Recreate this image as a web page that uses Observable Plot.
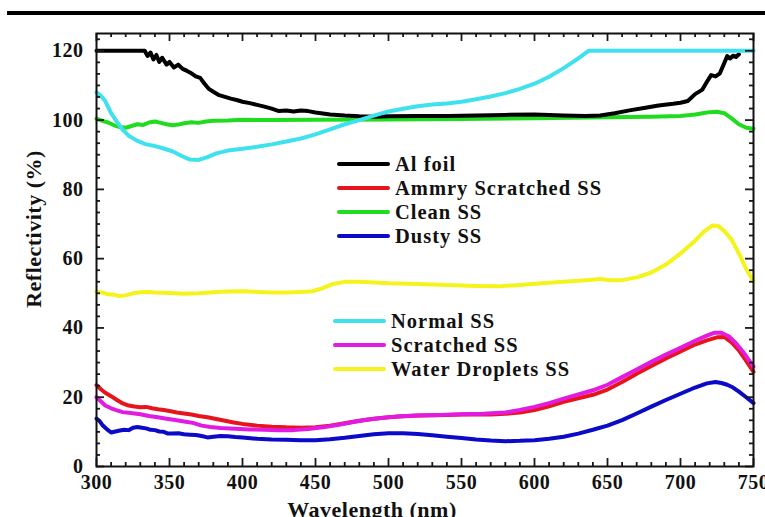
<!DOCTYPE html>
<html>
<head>
<meta charset="utf-8">
<script src="https://cdn.jsdelivr.net/npm/d3@7"></script>
<script src="https://cdn.jsdelivr.net/npm/@observablehq/plot@0.6"></script>
<style>
  html, body { margin: 0; padding: 0; background: white; }
  #wrap { position: relative; width: 765px; height: 517px; overflow: hidden; font-family: "Liberation Serif", "Times New Roman", serif; font-weight: bold; }
  #topline { position: absolute; left: 7px; top: 11px; width: 758px; height: 4px; background: #000; }
  .leg { position: absolute; display: flex; align-items: center; font-size: 20.5px; letter-spacing: 1px; color: #111; white-space: nowrap; }
  .leg .sw { width: 53px; height: 4px; margin-right: 5px; border-radius: 2px; }
</style>
</head>
<body>
<div id="wrap"></div>
<script>
// ---- tick labels ----
const xTicks = [300, 350, 400, 450, 500, 550, 600, 650, 700, 750];
const yTicks = [0, 20, 40, 60, 80, 100, 120];

// ---- series names and colours ----
const seriesNames = ["Al foil", "Ammry Scratched SS", "Clean SS", "Dusty SS", "Normal SS", "Scratched SS", "Water Droplets SS"];
const seriesColors = ["#000000", "#e8141c", "#1fdc1f", "#0a0ac8", "#3ee2ee", "#e21ae2", "#f4f41c"];

// ---- series values: [wavelength (nm), reflectivity (%)] ----
const alFoil = [[300,120],[333,120],[335,118.5],[337,119.5],[339,117.5],[341,118.8],[343,116.8],[345,118],[348,116],[350,116.8],[353,115.2],[356,116],[359,114.8],[362,114.2],[365,113.5],[368,112.6],[371,112.2],[374,110.5],[377,109],[380,108.2],[384,107.2],[388,106.7],[392,106.2],[396,105.8],[400,105.3],[405,104.9],[410,104.4],[415,103.9],[420,103.3],[425,102.6],[430,102.8],[435,102.5],[440,102.8],[445,102.6],[450,102.2],[455,101.9],[460,101.6],[470,101.3],[480,101.1],[490,101],[500,101.1],[520,101.2],[540,101.2],[560,101.3],[580,101.5],[600,101.6],[620,101.3],[635,101.2],[645,101.3],[655,102],[665,102.8],[675,103.5],[685,104.2],[695,104.7],[700,105],[705,105.5],[710,107.5],[715,108.8],[718,111],[721,113],[724,112.6],[727,113.5],[730,116.5],[732,118.5],[734,117.8],[736,118.6],[738,118.2],[740,119]];
const ammryScratched = [[300,23.5],[303,22.3],[306,21.3],[310,20.3],[314,19.2],[318,18.2],[322,17.6],[326,17.3],[330,17.1],[334,17.2],[338,16.8],[342,16.5],[346,16.3],[350,16],[355,15.6],[360,15.3],[365,15],[370,14.6],[376,14.2],[382,13.7],[388,13.2],[394,12.7],[400,12.3],[410,11.8],[420,11.5],[430,11.3],[440,11.2],[450,11.3],[460,11.8],[470,12.5],[480,13.2],[490,13.8],[500,14.2],[510,14.5],[520,14.7],[530,14.8],[540,14.9],[550,15],[560,15],[570,15],[580,15.2],[590,15.6],[600,16.3],[610,17.4],[620,18.7],[630,19.7],[640,20.7],[650,22.2],[660,24.4],[670,26.8],[680,29],[690,31.2],[700,33.2],[710,35.2],[718,36.4],[725,37.3],[730,37.4],[735,35.8],[740,33.5],[745,30.5],[750,27.3]];
const cleanSS = [[300,100.4],[304,99.8],[308,99.3],[312,98.5],[316,98],[320,97.8],[324,98.3],[328,98.8],[332,98.6],[336,99.3],[340,99.6],[344,99.2],[348,98.8],[352,98.5],[356,98.7],[360,99.1],[365,99.4],[370,99.2],[375,99.6],[380,99.8],[390,99.9],[400,100.1],[420,100],[450,100.1],[500,100.2],[550,100.3],[600,100.5],[650,100.8],[680,101],[700,101.2],[710,101.6],[715,102],[720,102.3],[725,102.4],[730,102],[735,100.5],[740,98.8],[745,97.8],[750,97.5]];
const dustySS = [[300,13.8],[302,13.2],[304,12],[307,10.8],[310,9.8],[313,10.1],[316,10.4],[319,10.6],[322,10.5],[325,11.2],[328,11.4],[331,11.2],[334,11],[337,10.6],[340,10.5],[343,10.1],[346,10],[349,9.5],[352,9.5],[356,9.6],[360,9.3],[364,9.2],[368,9.1],[372,8.8],[376,8.4],[380,8.6],[385,8.8],[390,8.7],[395,8.5],[400,8.4],[410,8],[420,7.8],[430,7.7],[440,7.6],[450,7.6],[460,7.9],[470,8.3],[480,8.8],[490,9.3],[500,9.6],[510,9.6],[520,9.4],[530,9],[540,8.6],[550,8.2],[560,7.8],[570,7.5],[580,7.3],[590,7.4],[600,7.6],[610,8],[620,8.6],[630,9.5],[640,10.6],[650,11.8],[660,13.4],[670,15.3],[680,17.3],[690,19.2],[700,21],[710,22.8],[718,24],[724,24.4],[728,24.1],[732,23.6],[736,22.8],[740,21.6],[745,20],[750,18.3]];
const normalSS = [[300,108],[303,107],[306,105.5],[310,102],[314,99.5],[318,97.2],[322,95.5],[328,94],[334,93],[340,92.5],[346,91.8],[352,91],[358,89.7],[364,88.6],[370,88.5],[376,89.3],[382,90.4],[390,91.2],[400,91.7],[410,92.3],[420,93],[430,93.8],[440,94.7],[450,95.9],[460,97.3],[470,98.8],[480,100],[490,101.3],[500,102.5],[510,103.3],[520,104],[530,104.5],[540,104.8],[550,105.3],[560,106],[570,106.8],[580,107.8],[590,109],[600,110.5],[610,112.5],[620,115],[630,117.8],[637,120],[750,120]];
const scratchedSS = [[300,20],[303,18.8],[306,17.6],[310,16.8],[314,16.2],[318,15.7],[322,15.5],[326,15.3],[330,15.1],[336,14.6],[342,14.2],[348,13.8],[354,13.4],[360,13],[366,12.6],[372,11.8],[378,11.4],[385,11.1],[395,10.9],[405,10.7],[415,10.6],[425,10.5],[435,10.5],[445,10.8],[455,11.3],[465,12],[475,12.8],[485,13.5],[495,14],[505,14.4],[520,14.7],[535,14.9],[550,15.1],[565,15.2],[580,15.6],[590,16.3],[600,17.2],[610,18.3],[620,19.6],[630,20.8],[640,22],[650,23.6],[660,25.8],[670,28],[680,30.2],[690,32.3],[700,34.3],[710,36.3],[718,37.8],[723,38.6],[728,38.6],[733,37.6],[738,35.6],[743,33],[750,28.8]];
const waterDropletsSS = [[300,50.5],[304,50.2],[308,49.7],[312,49.6],[316,49.2],[320,49.4],[325,50],[330,50.3],[335,50.4],[340,50.2],[350,50.1],[360,49.9],[370,50],[380,50.3],[390,50.5],[400,50.6],[410,50.4],[420,50.2],[430,50.2],[440,50.4],[448,50.6],[455,51.5],[462,52.7],[470,53.3],[480,53.3],[490,53.1],[500,52.9],[520,52.7],[540,52.4],[560,52.1],[575,52],[590,52.4],[605,52.9],[620,53.3],[635,53.8],[645,54.1],[652,53.8],[660,53.8],[670,54.6],[680,56],[690,58.3],[700,61.5],[710,65.2],[716,67.8],[722,69.6],[726,69.4],[730,68],[735,65.5],[740,61.5],[745,57],[750,53.5]];

const seriesData = [alFoil, ammryScratched, cleanSS, dustySS, normalSS, scratchedSS, waterDropletsSS];
// drawing order (later = on top)
const drawOrder = [2, 0, 4, 6, 3, 1, 5];

const W = 765, H = 517, mL = 96, mR = 12, mT = 33, mB = 51;
const plotW = W - mL - mR, plotH = H - mT - mB;
const xMinor = d3.range(300, 751, 10).filter(v => v % 50 !== 0);
const yMinor = d3.range(0, 125, 20 / 6).filter((v, i) => i % 6 !== 0);

const lineMarks = drawOrder.map(i =>
  Plot.line(seriesData[i], {x: d => d[0], y: d => d[1], stroke: seriesColors[i], strokeWidth: 4, strokeLinejoin: "round", strokeLinecap: "round"})
);

const tickStyle = {stroke: "#1a1a1a", strokeWidth: 1.8};
const chart = Plot.plot({
  width: W, height: H,
  marginLeft: mL, marginRight: mR, marginTop: mT, marginBottom: mB,
  x: {domain: [300, 750]},
  y: {domain: [0, 125]},
  style: {fontFamily: "'Liberation Serif', 'Times New Roman', serif", fontWeight: "bold", fontSize: "20px", color: "#111", background: "white", letterSpacing: "0.5px"},
  marks: [
    ...lineMarks,
    // inward ticks on all four sides
    Plot.ruleX(xTicks, {x: d => d, insetTop: plotH - 8, ...tickStyle}),
    Plot.ruleX(xTicks, {x: d => d, insetBottom: plotH - 8, ...tickStyle}),
    Plot.ruleX(xMinor, {x: d => d, insetTop: plotH - 4, ...tickStyle}),
    Plot.ruleX(xMinor, {x: d => d, insetBottom: plotH - 4, ...tickStyle}),
    Plot.ruleY(yTicks, {y: d => d, insetRight: plotW - 8, ...tickStyle}),
    Plot.ruleY(yTicks, {y: d => d, insetLeft: plotW - 8, ...tickStyle}),
    Plot.ruleY(yMinor, {y: d => d, insetRight: plotW - 4, ...tickStyle}),
    Plot.ruleY(yMinor, {y: d => d, insetLeft: plotW - 4, ...tickStyle}),
    Plot.frame({stroke: "#111", strokeWidth: 2}),
    Plot.axisX({ticks: xTicks, tickSize: 0, tickPadding: 8, label: null}),
    Plot.axisY({ticks: yTicks, tickSize: 0, tickPadding: 13, label: null}),
    Plot.text(["Wavelength (nm)"], {frameAnchor: "bottom", lineAnchor: "middle", textAnchor: "middle", dx: -53, dy: 43, fontSize: 22, letterSpacing: "1px"}),
    Plot.text(["Reflectivity (%)"], {frameAnchor: "left", lineAnchor: "middle", textAnchor: "middle", rotate: -90, dx: -63, dy: -21, fontSize: 22, letterSpacing: "1px"})
  ]
});

const wrapEl = document.getElementById("wrap");
wrapEl.appendChild(chart);
const topLineEl = document.createElement("div");
topLineEl.id = "topline";
wrapEl.appendChild(topLineEl);

// legend (two groups inside the plot area)
const legendGroups = [
  {items: [0, 1, 2, 3], left: 337, top: 164},
  {items: [4, 5, 6], left: 333, top: 321}
];
const rowGap = 24;
legendGroups.forEach(g => {
  g.items.forEach((idx, k) => {
    const row = document.createElement("div");
    row.className = "leg";
    row.style.left = g.left + "px";
    row.style.top = (g.top + k * rowGap - 12) + "px";
    row.style.height = "24px";
    const sw = document.createElement("span");
    sw.className = "sw";
    sw.style.background = seriesColors[idx];
    const tx = document.createElement("span");
    tx.textContent = seriesNames[idx];
    row.appendChild(sw);
    row.appendChild(tx);
    wrapEl.appendChild(row);
  });
});
</script>
</body>
</html>
